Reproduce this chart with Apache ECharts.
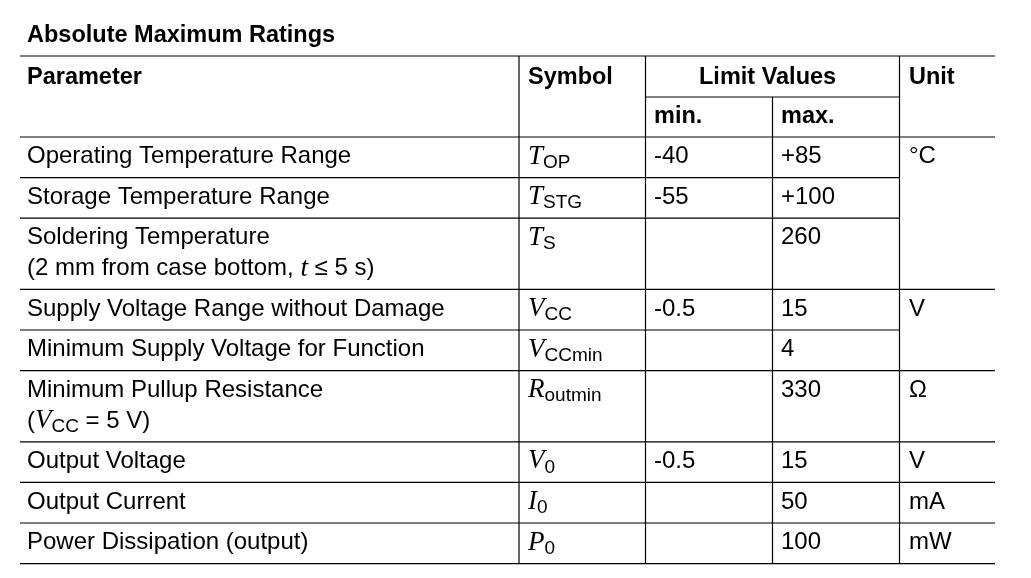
<!DOCTYPE html>
<html><head><meta charset="utf-8">
<script src="https://cdn.jsdelivr.net/npm/echarts@6/dist/echarts.min.js"></script>
<style>html,body{margin:0;background:#fff}#c{width:1031px;height:578px}</style>
</head><body><div id="c"></div>
<script>
var title = 'Absolute Maximum Ratings';
var parameters = [
  'Operating Temperature Range',
  'Storage Temperature Range',
  'Soldering Temperature\n(2 mm from case bottom, {it|t} ≤ 5 s)',
  'Supply Voltage Range without Damage',
  'Minimum Supply Voltage for Function',
  'Minimum Pullup Resistance\n({it|V}{sb|CC} = 5 V)',
  'Output Voltage',
  'Output Current',
  'Power Dissipation (output)'
];
var symbols = [['T','OP'],['T','STG'],['T','S'],['V','CC'],['V','CCmin'],['R','outmin'],['V','0'],['I','0'],['P','0']];
var minValues = ['-40','-55','','-0.5','','','-0.5','',''];
var maxValues = ['+85','+100','260','15','4','330','15','50','100'];
var units = ['°C','','','V','','Ω','V','mA','mW'];
var unitSpan = [3,0,0,2,0,1,1,1,1];
var rowLines = [1,1,2,1,1,2,1,1,1];

var X0 = 20, X1 = 995, cols = [519, 645.5, 772.5, 899.5];
var top0 = 56, headMid = 97, headBot = 137, lineH = 40.6, extra = 30.6;
var font = 'Liberation Sans, Arial, sans-serif';
var rich = {
  it: { fontFamily: 'Liberation Serif, Times New Roman, serif', fontStyle: 'italic', fontSize: 27, lineHeight: 31 },
  sb: { fontFamily: font, fontSize: 19, lineHeight: 31, verticalAlign: 'bottom', padding: [14, 0, 0, 0] }
};
var els = [];
function txt(x, y, s, bold) {
  els.push({ type: 'text', x: x, y: y, style: { text: s, font: (bold ? 'bold 23.5px ' : '24px ') + font, fill: '#000', lineHeight: 31, rich: rich, verticalAlign: 'top' } });
}
function line(x1, y1, x2, y2) {
  els.push({ type: 'line', shape: { x1: x1, y1: y1, x2: x2, y2: y2 }, style: { stroke: '#000', lineWidth: 1.2 } });
}
txt(27, 20, title, true);
txt(27, 62, 'Parameter', true);
txt(528, 62, 'Symbol', true);
txt(699, 62, 'Limit Values', true);
txt(909, 62, 'Unit', true);
txt(654, 101, 'min.', true);
txt(781, 101, 'max.', true);
line(X0, top0, X1, top0);
line(cols[1], headMid, cols[3], headMid);
line(X0, headBot, X1, headBot);

var y = headBot, tops = [];
for (var i = 0; i < parameters.length; i++) { tops.push(y); y += lineH + (rowLines[i] - 1) * extra; }
var bottom = y;
for (var i = 0; i < parameters.length; i++) {
  var t = tops[i] + 4;
  txt(27, t, parameters[i]);
  txt(528, t, '{it|' + symbols[i][0] + '}{sb|' + symbols[i][1] + '}');
  txt(654, t, minValues[i]);
  txt(781, t, maxValues[i]);
  if (units[i]) txt(909, t, units[i]);
  var yb = i + 1 < tops.length ? tops[i + 1] : bottom;
  var closes = true;
  for (var k = 0; k <= i; k++) if (unitSpan[k] && k + unitSpan[k] - 1 > i) closes = false;
  line(X0, yb, closes ? X1 : cols[3], yb);
}
line(cols[0], top0, cols[0], bottom);
line(cols[1], top0, cols[1], bottom);
line(cols[2], headMid, cols[2], bottom);
line(cols[3], top0, cols[3], bottom);

var chart = echarts.init(document.getElementById('c'));
chart.setOption({ animation: false, graphic: { elements: els } });
</script></body></html>
